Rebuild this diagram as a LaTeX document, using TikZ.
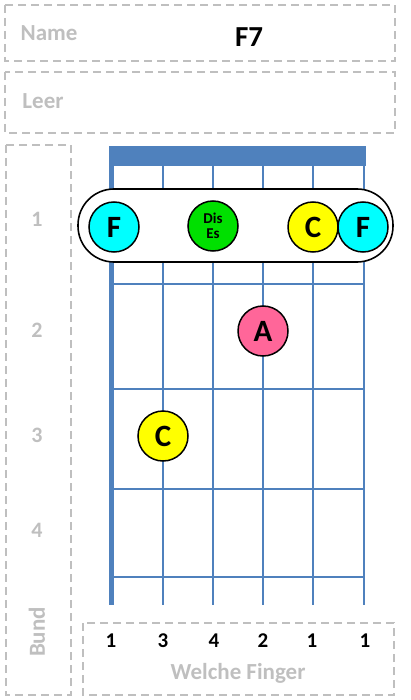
\documentclass[tikz,border=0pt]{standalone}
\usepackage{fontspec}
\setmainfont{Carlito}
\definecolor{fretblue}{HTML}{4F81BD}
\definecolor{boxgray}{HTML}{BFBFBF}
\definecolor{notecyan}{HTML}{00FFFF}
\definecolor{notegreen}{HTML}{00E000}
\definecolor{noteyellow}{HTML}{FFFF00}
\definecolor{notepink}{HTML}{FF6699}
\begin{document}
\begin{tikzpicture}[x=1pt,y=-1pt,
  dbox/.style={draw=boxgray,line width=1.5pt,dash pattern=on 8pt off 5pt},
  graylabel/.style={text=boxgray,font=\bfseries\fontsize{23}{25}\selectfont},
  fretno/.style={text=boxgray,font=\bfseries\fontsize{22}{24}\selectfont},
  fingerno/.style={text=black,font=\bfseries\fontsize{21}{23}\selectfont},
  string/.style={draw=fretblue,line width=2.2pt},
  fret/.style={draw=fretblue,line width=2pt},
  note/.style={circle,draw=black,line width=1.5pt,minimum size=50pt,inner sep=0pt,font=\bfseries\fontsize{31}{33}\selectfont},
  smallnote/.style={note,font=\bfseries\fontsize{15}{16}\selectfont,align=center}]
\useasboundingbox (0,0) rectangle (410,700);
% boxes
\draw[dbox] (5,5) rectangle (395,61);
\draw[dbox] (5,72) rectangle (395,133);
\draw[dbox] (6,145) rectangle (71,695);
\draw[dbox] (83,623) rectangle (394,695);
\node[graylabel] (name) at (49,33) {Name};
\node[font=\bfseries\fontsize{29}{31}\selectfont] (chord) at (249,37) {F7};
\node[graylabel] (leer) at (43,101) {Leer};
\node[fretno] (f1) at (37,219) {1};
\node[fretno] (f2) at (37,330) {2};
\node[fretno] (f3) at (37,435) {3};
\node[fretno] (f4) at (37,530) {4};
\node[graylabel,rotate=90] (bund) at (37,632) {Bund};
% strings
\draw[string,line width=5pt] (111.5,160) -- (111.5,605);
\foreach \x in {163,213,263,313,364}{\draw[string] (\x,160) -- (\x,605);}
% frets
\foreach \y in {284,389,489,577}{\draw[fret] (111,\y) -- (365,\y);}
% nut
\fill[fretblue] (109,146) rectangle (366,166);
% barre
\draw[line width=1.6pt,fill=white,rounded corners=36pt] (78,189) rectangle (393,262);
\node[note,fill=notecyan] (n1) at (114,227) {F};
\node[smallnote,fill=notegreen] (n3) at (213,226) {Dis\\[-1pt]Es};
\node[note,fill=noteyellow] (n5) at (313,227) {C};
\node[note,fill=notecyan] (n6) at (363,227) {F};
\node[note,fill=notepink] (n4) at (263,331) {A};
\node[note,fill=noteyellow] (n2) at (163,436) {C};
% fingers
\node[fingerno] (g1) at (111,641) {1};
\node[fingerno] (g2) at (163,641) {3};
\node[fingerno] (g3) at (214,641) {4};
\node[fingerno] (g4) at (263,641) {2};
\node[fingerno] (g5) at (312,641) {1};
\node[fingerno] (g6) at (365,641) {1};
\node[graylabel] (welche) at (238,673) {Welche Finger};
\end{tikzpicture}
\end{document}
